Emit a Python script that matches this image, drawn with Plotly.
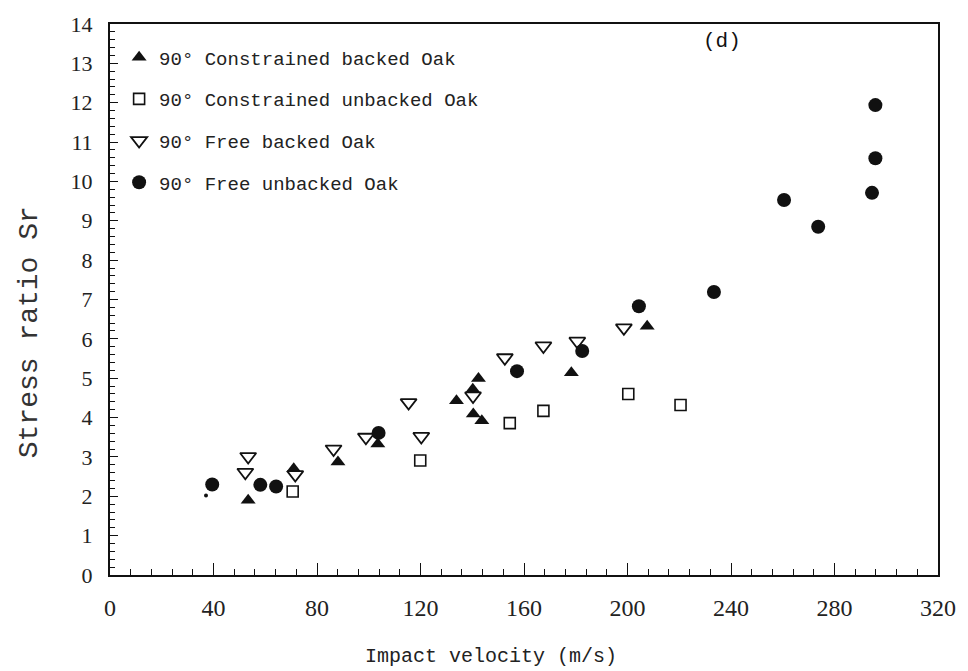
import plotly.graph_objects as go

# Impact velocity (m/s) and stress ratio Sr for each oak test series
cb_velocity = [53.4, 71.0, 88.1, 103.5, 133.9, 140.2, 142.4, 140.4, 143.7, 178.3, 207.6]
cb_ratio = [1.90, 2.70, 2.87, 3.33, 4.43, 4.72, 4.99, 4.09, 3.92, 5.14, 6.32]

cu_velocity = [70.6, 119.9, 154.5, 167.5, 200.3, 220.5]
cu_ratio = [2.12, 2.91, 3.86, 4.17, 4.60, 4.32]

fb_velocity = [52.3, 53.4, 71.6, 86.4, 98.9, 115.4, 120.3, 140.3, 152.6, 167.5, 180.6, 198.6]
fb_ratio = [2.61, 3.01, 2.55, 3.20, 3.50, 4.38, 3.52, 4.55, 5.52, 5.82, 5.94, 6.28]

fu_velocity = [39.5, 58.1, 64.2, 103.8, 157.3, 182.5, 204.4, 233.4, 260.5, 273.7, 294.5, 295.8, 295.8]
fu_ratio = [2.30, 2.29, 2.25, 3.61, 5.18, 5.69, 6.83, 7.19, 9.53, 8.85, 9.71, 10.59, 11.94]

stray_velocity = [37.1]
stray_ratio = [2.02]

series_names = [
    "90° Constrained backed Oak",
    "90° Constrained unbacked Oak",
    "90° Free backed Oak",
    "90° Free unbacked Oak",
]

x_ticks = [0, 40, 80, 120, 160, 200, 240, 280, 320]
y_ticks = list(range(0, 15))

INK = "#111111"
MONO = "Liberation Mono"
SERIF = "Liberation Serif"

fig = go.Figure()

fig.add_trace(go.Scatter(
    x=cb_velocity, y=cb_ratio, mode="markers", name=series_names[0],
    legendgroup="a",
    marker=dict(symbol="triangle-up", size=13, color=INK, line=dict(width=0)),
))
fig.add_trace(go.Scatter(
    x=cu_velocity, y=cu_ratio, mode="markers", name=series_names[1],
    legendgroup="b",
    marker=dict(symbol="square-open", size=11, color=INK, line=dict(width=1.6)),
))
fig.add_trace(go.Scatter(
    x=fb_velocity, y=fb_ratio, mode="markers", name=series_names[2],
    legendgroup="c",
    marker=dict(symbol="triangle-down-open", size=14, color=INK, line=dict(width=1.8)),
))
fig.add_trace(go.Scatter(
    x=fu_velocity, y=fu_ratio, mode="markers", name=series_names[3],
    legendgroup="d",
    marker=dict(symbol="circle", size=14, color=INK, line=dict(width=0)),
))
fig.add_trace(go.Scatter(
    x=stray_velocity, y=stray_ratio, mode="markers", showlegend=False,
    marker=dict(symbol="circle", size=4, color=INK, line=dict(width=0)),
))

axis_common = dict(
    showgrid=False, zeroline=False, showline=True, linecolor=INK, linewidth=2,
    mirror=True, ticks="inside", tickcolor=INK, tickwidth=1,
)

fig.update_xaxes(
    range=[0, 320], tickmode="array", tickvals=x_ticks,
    ticklen=12, ticklabelstandoff=10,
    minor=dict(dtick=8, ticks="inside", ticklen=6, tickcolor=INK, tickwidth=1),
    tickfont=dict(family=SERIF, size=24, color="#222222"),
    **axis_common,
)
fig.update_yaxes(
    range=[0, 14], tickmode="array", tickvals=y_ticks,
    ticklen=8, ticklabelstandoff=11,
    minor=dict(dtick=0.2, ticks="inside", ticklen=5, tickcolor=INK, tickwidth=1),
    tickfont=dict(family=SERIF, size=22, color="#222222"),
    **axis_common,
)

fig.add_annotation(
    x=0.46, y=-0.148, xref="paper", yref="paper", showarrow=False,
    text="Impact velocity (m/s)", xanchor="center", yanchor="middle",
    font=dict(family=MONO, size=20, color="#222222"),
)
fig.add_annotation(
    x=-0.097, y=0.44, xref="paper", yref="paper", showarrow=False,
    text="Stress ratio Sr", textangle=-90, xanchor="center", yanchor="middle",
    font=dict(family=MONO, size=28, color="#333333"),
)
fig.add_annotation(
    x=236.5, y=13.55, showarrow=False, text="(d)",
    font=dict(family=MONO, size=21, color="#111111"),
)

fig.update_layout(
    width=968, height=671,
    margin=dict(l=110, r=28, t=21, b=96),
    paper_bgcolor="white", plot_bgcolor="white",
    showlegend=True,
    legend=dict(
        x=0.011, y=0.974, xanchor="left", yanchor="top",
        bgcolor="rgba(0,0,0,0)", borderwidth=0,
        tracegroupgap=14,
        font=dict(family=MONO, size=19, color="#222222"),
    ),
)

fig.write_html("out.html")
